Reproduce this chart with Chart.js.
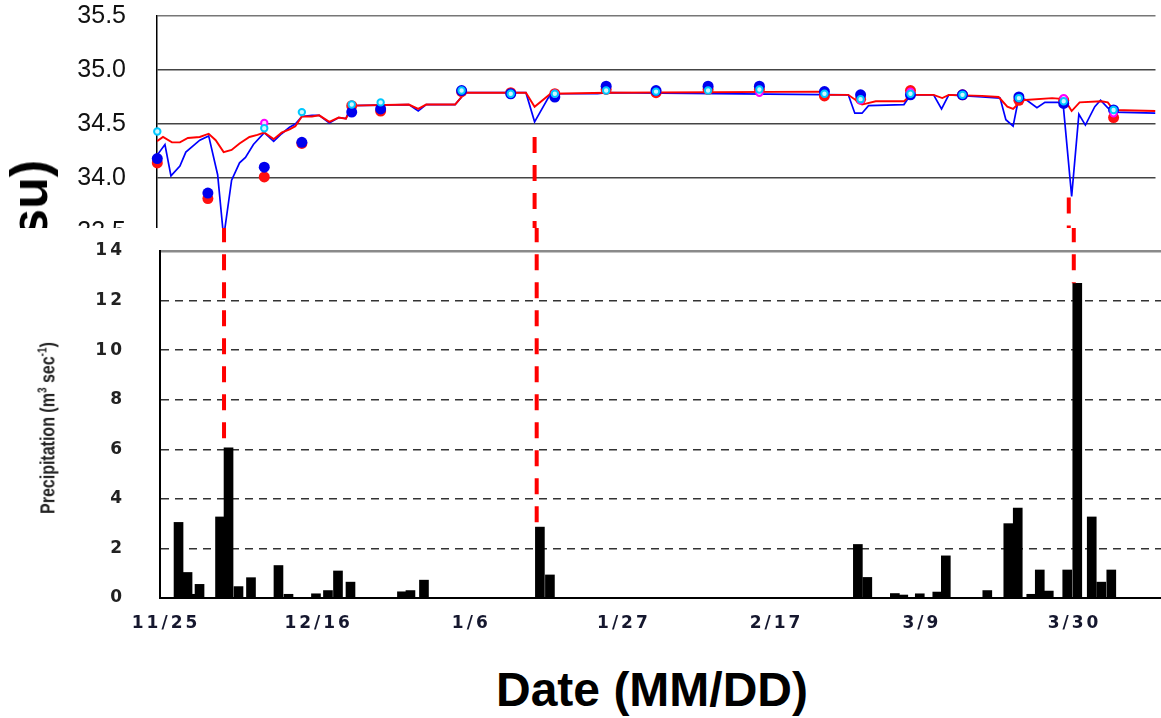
<!DOCTYPE html>
<html>
<head>
<meta charset="utf-8">
<title>Salinity and precipitation</title>
<script src="https://cdn.jsdelivr.net/npm/chart.js@4.4.1/dist/chart.umd.min.js"></script>
<style>
  html, body { margin: 0; padding: 0; background: #fff; }
  body { width: 1161px; height: 718px; position: relative; overflow: hidden; font-family: 'Liberation Sans', Arial, sans-serif; }
  #topPanel { position: absolute; left: 0; top: 0; width: 1161px; height: 228px; overflow: hidden; }
  #botPanel { position: absolute; left: 0; top: 228px; width: 1161px; height: 420px; background: #fff; }
  canvas { display: block; }
  .sal-title { position: absolute; left: 3px; top: 160px; font: bold 52px 'Liberation Sans', Arial, sans-serif; line-height: 52px; writing-mode: vertical-rl; transform: rotate(180deg); white-space: nowrap; color: #000; }
  .rain-title { position: absolute; left: 47px; top: 428px; font: bold 16px 'Liberation Sans', Arial, sans-serif; white-space: nowrap; color: #222; transform: translate(-50%, -50%) rotate(-90deg) scaleY(1.3); }
  .rain-title sup { font-size: 10px; }
  .date-title { position: absolute; left: 652px; top: 666px; transform: translateX(-50%); font: bold 48px 'Liberation Sans', Arial, sans-serif; line-height: 48px; white-space: nowrap; color: #000; }
</style>
</head>
<body>
<div id="topPanel">
  <canvas id="salCanvas" width="1161" height="250"></canvas>
  <div class="sal-title">Salinity (psu)</div>
</div>
<div id="botPanel">
  <canvas id="rainCanvas" width="1161" height="420"></canvas>
</div>
<div class="rain-title">Precipitation (m<sup>3</sup> sec<sup>-1</sup>)</div>
<div class="date-title">Date (MM/DD)</div>

<script>
// --- Data (x = days since 11/25) ---
const tickDays = [0, 21, 42, 63, 84, 104, 125];
const tickLabels = ['11/25', '12/16', '1/6', '1/27', '2/17', '3/9', '3/30'];
const salTicks = [33.5, 34.0, 34.5, 35.0, 35.5];
const rainTicks = [0, 2, 4, 6, 8, 10, 12, 14];

// daily salinity traces
const blueLineDays = [-1.24, -0.14, 0.69, 1.93, 2.75, 4.68, 5.91, 7.15, 7.98, 9.08, 10.18, 11.0, 12.1, 13.6, 14.9, 16.0, 17.1, 17.9, 18.8, 20.2, 21.2, 22.6, 23.9, 24.9, 25.7, 33.6, 34.9, 36.0, 40.0, 41.4, 49.8, 51.0, 53.2, 59.7, 61.1, 94.4, 95.3, 96.3, 97.2, 102.1, 103.0, 106.2, 107.3, 108.3, 112.9, 115.4, 116.2, 117.2, 118.0, 119.1, 120.5, 121.6, 124.1, 125.3, 126.3, 127.2, 128.5, 129.3, 130.3, 131.1, 136.9];
const blueLineVals = [34.21, 34.31, 34.02, 34.11, 34.24, 34.35, 34.39, 34.03, 33.45, 33.98, 34.14, 34.19, 34.31, 34.42, 34.34, 34.41, 34.47, 34.50, 34.57, 34.58, 34.58, 34.51, 34.56, 34.55, 34.67, 34.68, 34.62, 34.68, 34.68, 34.79, 34.79, 34.52, 34.78, 34.78, 34.79, 34.77, 34.60, 34.60, 34.67, 34.68, 34.77, 34.77, 34.64, 34.77, 34.75, 34.74, 34.54, 34.48, 34.75, 34.72, 34.65, 34.70, 34.70, 33.83, 34.59, 34.49, 34.66, 34.72, 34.65, 34.61, 34.60];
const redLineDays = [-1.24, -0.41, 0.83, 1.93, 3.03, 4.68, 5.91, 6.88, 7.98, 9.08, 10.18, 11.55, 12.65, 13.6, 14.9, 16.0, 17.1, 17.9, 18.8, 20.2, 21.2, 22.6, 23.9, 24.9, 25.7, 33.6, 34.9, 36.0, 40.0, 41.4, 49.8, 51.0, 53.2, 61.1, 90.9, 91.2, 94.4, 96.3, 98.2, 102.1, 103.0, 106.2, 107.4, 108.3, 112.9, 115.2, 116.4, 117.2, 118.4, 122.6, 124.3, 125.3, 126.4, 129.4, 130.3, 131.1, 136.9];
const redLineVals = [34.34, 34.38, 34.33, 34.33, 34.37, 34.38, 34.41, 34.35, 34.24, 34.26, 34.32, 34.38, 34.40, 34.42, 34.36, 34.42, 34.45, 34.48, 34.57, 34.57, 34.58, 34.52, 34.56, 34.55, 34.67, 34.68, 34.64, 34.68, 34.68, 34.79, 34.79, 34.66, 34.78, 34.79, 34.80, 34.77, 34.77, 34.68, 34.71, 34.71, 34.77, 34.77, 34.74, 34.77, 34.76, 34.75, 34.66, 34.64, 34.72, 34.74, 34.73, 34.62, 34.70, 34.71, 34.70, 34.63, 34.62];

// weekly samples
const sampleDays = [-1.2, 5.8, 13.6, 18.8, 25.7, 29.7, 40.9, 47.7, 53.8, 60.9, 67.8, 75.0, 82.1, 91.1, 96.1, 103.0, 110.2, 118.0, 124.2, 131.1];
const redDots = [34.14, 33.81, 34.01, 34.32, 34.67, 34.62, 34.80, 34.79, 34.78, 34.82, 34.79, 34.82, 34.82, 34.76, 34.73, 34.81, 34.77, 34.72, 34.72, 34.56];
const blueDots = [34.18, 33.86, 34.10, 34.33, 34.61, 34.64, 34.81, 34.78, 34.75, 34.85, 34.81, 34.85, 34.85, 34.80, 34.77, 34.77, 34.77, 34.75, 34.69, 34.63];
const magentaDots = [null, null, 34.51, null, null, null, null, null, 34.78, null, null, null, 34.79, null, 34.72, 34.80, null, null, 34.74, 34.60];
const cyanDots = [34.43, null, 34.46, 34.61, 34.68, 34.70, 34.81, 34.78, 34.78, 34.81, 34.80, 34.81, 34.82, 34.78, 34.73, 34.78, 34.77, 34.74, 34.71, 34.63];

// precipitation bars
const rainDays = [1.72, 2.96, 3.64, 4.61, 7.43, 8.6, 9.97, 11.69, 15.47, 16.85, 20.63, 22.28, 23.66, 25.38, 32.46, 33.63, 35.49, 51.44, 52.82, 95.19, 96.49, 100.28, 101.44, 103.71, 106.12, 107.29, 113.0, 115.89, 117.19, 119.05, 120.22, 121.46, 124.0, 125.38, 127.37, 128.68, 130.06];
const rainVals = [3.05, 1.03, 0.15, 0.55, 3.27, 6.06, 0.46, 0.82, 1.31, 0.15, 0.17, 0.3, 1.09, 0.64, 0.25, 0.3, 0.72, 2.86, 0.93, 2.16, 0.83, 0.18, 0.12, 0.17, 0.24, 1.7, 0.3, 3.0, 3.63, 0.15, 1.13, 0.28, 1.13, 12.7, 3.27, 0.64, 1.13];

// rain events linking salinity dips to bars
const eventDays = [7.98, 51.0, 124.9];
const eventSalTop = [33.5, 34.38, 33.82];
const eventRainTop = [6.06, 2.86, 12.7];

// --- helpers ---
const FONT = "'Liberation Sans', Arial, sans-serif";
const WIDE = "'DejaVu Sans', Verdana, sans-serif";
const pts = (xs, ys) => xs.map((x, i) => ({ x, y: ys[i] }));
const dotSet = (vals, radius, fill, stroke, bw, order) => ({
    data: pts(sampleDays, vals), showLine: false, clip: false, order,
    pointRadius: radius, pointHoverRadius: radius,
    backgroundColor: fill, borderColor: stroke, borderWidth: bw
});
// y axes: fixed width, no extra label overhang so the plot box sits where the padding says
const fixAxis = width => s => { s.width = width; s.paddingTop = 0; s.paddingBottom = 0; };

// --- Salinity (top) ---
const salDash = eventDays
    .map((d, i) => ({ d, top: eventSalTop[i] }))
    .filter(e => e.top > salTicks[0])
    .map(e => ({
        data: [{ x: e.d, y: e.top }, { x: e.d, y: 33.4 }],
        showLine: true, borderColor: '#ff0000', borderWidth: 4, borderDash: [16, 12],
        pointRadius: 0, order: 9
    }));

new Chart(document.getElementById('salCanvas'), {
    type: 'scatter',
    data: {
        datasets: [
            ...salDash,
            { data: pts(blueLineDays, blueLineVals), showLine: true, borderColor: '#0000ff', borderWidth: 1.7, pointRadius: 0, order: 7 },
            { data: pts(redLineDays, redLineVals), showLine: true, borderColor: '#ff0000', borderWidth: 1.9, pointRadius: 0, order: 6 },
            dotSet(redDots, 5.5, '#ff1010', '#ff1010', 0, 4),
            dotSet(blueDots, 5.5, '#0000ee', '#0000ee', 0, 3),
            dotSet(magentaDots, 3.2, '#ffd0ff', '#ff00ff', 2, 2),
            dotSet(cyanDots, 3.2, '#d0f8ff', '#00c8ff', 2, 1)
        ]
    },
    options: {
        responsive: false, animation: false,
        layout: { padding: { top: 16, bottom: 18, left: 0, right: 0 } },
        plugins: { legend: { display: false }, tooltip: { enabled: false } },
        scales: {
            x: { type: 'linear', display: false, min: -1.24, max: 136.9 },
            y: {
                min: salTicks[0], max: salTicks[salTicks.length - 1],
                afterBuildTicks: s => { s.ticks = salTicks.map(v => ({ value: v })); },
                afterFit: fixAxis(157),
                ticks: { callback: v => v.toFixed(1), font: { family: FONT, size: 25 }, color: '#111', padding: 31 },
                grid: {
                    color: c => (c.tick && c.tick.value === 35.5) ? '#777' : '#444',
                    lineWidth: 1.5, drawTicks: false
                },
                border: { display: true, color: '#000', width: 1.5 }
            }
        }
    }
});

// --- Precipitation (bottom) ---
const wideText = {
    id: 'wideText',
    beforeLayout(chart) { chart.ctx.letterSpacing = '3px'; },
    beforeDraw(chart) { chart.ctx.letterSpacing = '3px'; }
};

new Chart(document.getElementById('rainCanvas'), {
    type: 'bar',
    data: {
        datasets: [
            ...eventDays.map((d, i) => ({
                type: 'line', data: [{ x: d, y: 15 }, { x: d, y: eventRainTop[i] }],
                borderColor: '#ff0000', borderWidth: 4, borderDash: [16, 12],
                pointRadius: 0, clip: false, order: 0
            })),
            { type: 'bar', data: pts(rainDays, rainVals), backgroundColor: '#000', barThickness: 9, order: 1 }
        ]
    },
    options: {
        responsive: false, animation: false,
        layout: { padding: { top: 23, bottom: 0, left: 0, right: 0 } },
        plugins: { legend: { display: false }, tooltip: { enabled: false } },
        scales: {
            x: {
                type: 'linear', min: -0.83, max: 136.9, offset: false,
                afterBuildTicks: s => { s.ticks = tickDays.map(v => ({ value: v })); },
                afterFit: s => { s.height = 50; },
                ticks: {
                    callback: (v, i) => tickLabels[i], autoSkip: false, maxRotation: 0,
                    font: { family: WIDE, size: 17, weight: 'bold' }, color: '#15172e', padding: 7
                },
                grid: { display: false },
                border: { display: true, color: '#000', width: 2 }
            },
            y: {
                min: 0, max: 14,
                afterBuildTicks: s => { s.ticks = rainTicks.map(v => ({ value: v })); },
                afterFit: fixAxis(160),
                ticks: { font: { family: WIDE, size: 17, weight: 'bold' }, color: '#222', padding: 35 },
                grid: {
                    color: c => (c.tick && c.tick.value === 14) ? '#8a8a8a' : '#333',
                    lineWidth: c => (c.tick && c.tick.value === 14) ? 2.5 : 1.5,
                    drawTicks: false
                },
                border: {
                    display: true, color: '#000', width: 2,
                    dash: c => (c.tick && c.tick.value > 0 && c.tick.value < 14) ? [8, 6] : []
                }
            }
        }
    },
    plugins: [wideText]
});
</script>
</body>
</html>
